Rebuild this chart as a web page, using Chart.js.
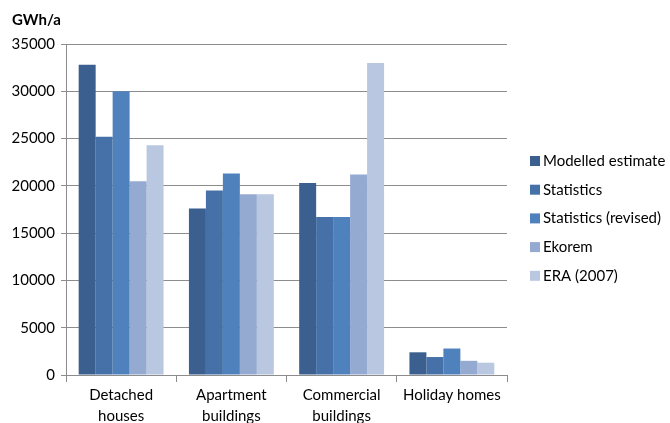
<!DOCTYPE html>
<html>
<head>
<meta charset="utf-8">
<script src="https://cdn.jsdelivr.net/npm/chart.js@4/dist/chart.umd.min.js"></script>
<style>
  html, body { margin: 0; padding: 0; background: #fff; }
  #wrap { width: 670px; height: 423px; overflow: hidden; }
</style>
</head>
<body>
<div id="wrap"><canvas id="grafica" width="670" height="440"></canvas></div>
<script>
// categorias y series (GWh/a)
const categorias = [['Detached', 'houses'], ['Apartment', 'buildings'], ['Commercial', 'buildings'], 'Holiday homes'];
const series = ['Modelled estimate', 'Statistics', 'Statistics (revised)', 'Ekorem', 'ERA (2007)'];
const modelled = [32800, 17600, 20300, 2400];
const statistics = [25200, 19500, 16700, 1900];
const revised = [30000, 21300, 16700, 2800];
const ekorem = [20500, 19100, 21200, 1500];
const era2007 = [24300, 19100, 33000, 1300];
const colores = ['#3b5f8f', '#4571a8', '#4f81bd', '#95aad1', '#bac7e1'];

const fuente = 'Lato, "Open Sans", sans-serif';

const valores = [modelled, statistics, revised, ekorem, era2007];
const datasets = series.map((nombre, i) => {
    return {
        label: nombre,
        data: valores[i],
        backgroundColor: colores[i],
        borderWidth: 0,
        categoryPercentage: 0.77,
        barPercentage: 1
    };
});

// titulo del eje y leyenda dibujados a mano
const extras = {
    id: 'extras',
    afterDraw(chart) {
        const ctx = chart.ctx;
        ctx.save();
        ctx.fillStyle = '#000';
        ctx.font = 'bold 15px ' + fuente;
        ctx.textBaseline = 'middle';
        ctx.fillText('GWh/a', 12, 20);
        ctx.font = '15px ' + fuente;
        chart.data.datasets.forEach((ds, i) => {
            const y = 161 + i * 28.7;
            ctx.fillStyle = ds.backgroundColor;
            ctx.fillRect(530, y - 5, 10, 10);
            ctx.fillStyle = '#000';
            ctx.fillText(ds.label, 543, y);
        });
        ctx.restore();
    }
};

const config = {
    type: 'bar',
    data: { labels: categorias, datasets },
    options: {
        responsive: false,
        animation: false,
        layout: { padding: { left: 0, top: 44, right: 163, bottom: 0 } },
        plugins: { legend: { display: false }, tooltip: { enabled: false } },
        scales: {
            x: {
                grid: { offset: true, drawOnChartArea: false, color: '#8c8c8c', tickLength: 7 },
                border: { color: '#8c8c8c' },
                ticks: { color: '#000', font: { family: fuente, size: 15, lineHeight: 1.4 }, padding: 3, maxRotation: 0 },
                afterFit(scale) { scale.height = 65; }
            },
            y: {
                min: 0,
                max: 35000,
                ticks: {
                    stepSize: 5000,
                    color: '#000',
                    font: { family: fuente, size: 15 },
                    padding: 6,
                    callback: (v) => String(v)
                },
                grid: { color: '#8c8c8c', tickLength: 5 },
                border: { color: '#8c8c8c' },
                afterFit(scale) { scale.width = 66; }
            }
        }
    },
    plugins: [extras]
};

window.grafica = new Chart(document.getElementById('grafica'), config);
</script>
</body>
</html>
